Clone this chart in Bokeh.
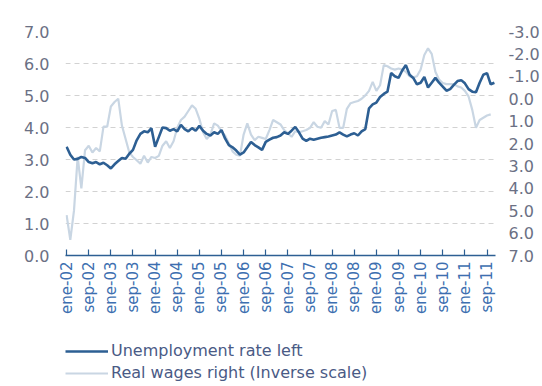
from bokeh.plotting import figure
from bokeh.models import (Range1d, LinearAxis, FixedTicker, Legend, LegendItem,
                          PrintfTickFormatter, AllLabels)
from bokeh.layouts import column
from bokeh.embed import file_html
from bokeh.resources import INLINE
import math

# ---------------- data ----------------
tick_labels = ["ene-02", "sep-02", "ene-03", "sep-03", "ene-04", "sep-04", "ene-05",
               "sep-05", "ene-06", "sep-06", "ene-07", "sep-07", "ene-08", "sep-08",
               "ene-09", "sep-09", "ene-10", "sep-10", "ene-11", "sep-11"]

# monthly, ene-02 .. sep-11 (left axis, %)
unemployment = [
    3.40, 3.15, 3.00, 3.02, 3.08, 3.05, 2.92, 2.88, 2.92, 2.85,
    2.90, 2.82, 2.72, 2.85, 2.95, 3.05, 3.02, 3.18, 3.30, 3.60,
    3.80, 3.88, 3.85, 3.98, 3.40, 3.70, 4.00, 3.98, 3.90, 3.95,
    3.88, 4.08, 3.95, 3.88, 3.98, 3.90, 4.05, 3.90, 3.80, 3.75,
    3.85, 3.80, 3.92, 3.65, 3.45, 3.38, 3.28, 3.15, 3.22, 3.38,
    3.55, 3.45, 3.38, 3.30, 3.55, 3.62, 3.68, 3.70, 3.75, 3.85,
    3.80, 3.90, 4.02, 3.85, 3.65, 3.58, 3.65, 3.62, 3.65, 3.68,
    3.70, 3.72, 3.75, 3.78, 3.85, 3.78, 3.72, 3.78, 3.82, 3.75,
    3.88, 3.95, 4.60, 4.72, 4.78, 4.95, 5.05, 5.12, 5.70, 5.60,
    5.55, 5.78, 5.95, 5.65, 5.55, 5.35, 5.40, 5.58, 5.25, 5.40,
    5.55, 5.40, 5.28, 5.15, 5.20, 5.33, 5.45, 5.48, 5.38, 5.20,
    5.12, 5.10, 5.40, 5.65, 5.70, 5.35, 5.40,
]

# monthly, ene-02 .. ago-11 (right axis, inverse scale)
real_wages = [
    5.20, 6.30, 5.00, 2.60, 4.00, 2.30, 2.10, 2.40, 2.20, 2.35,
    1.25, 1.25, 0.35, 0.15, 0.00, 1.20, 1.80, 2.40, 2.60, 2.75,
    2.90, 2.55, 2.85, 2.60, 2.65, 2.55, 2.10, 1.90, 2.20, 1.90,
    1.30, 0.95, 0.80, 0.55, 0.30, 0.45, 0.90, 1.50, 1.80, 1.60,
    1.10, 1.20, 1.45, 1.65, 2.00, 2.35, 2.50, 2.55, 1.60, 1.10,
    1.60, 1.85, 1.70, 1.75, 1.80, 1.40, 0.95, 1.05, 1.15, 1.40,
    1.55, 1.70, 1.45, 1.50, 1.45, 1.40, 1.30, 1.05, 1.25, 1.30,
    1.00, 1.15, 0.55, 0.50, 1.30, 1.30, 0.45, 0.20, 0.15, 0.10,
    0.00, -0.15, -0.35, -0.75, -0.35, -0.60, -1.50, -1.45, -1.35, -1.30,
    -1.35, -1.30, -1.20, -1.00, -0.95, -1.00, -1.30, -1.95, -2.25, -2.00,
    -1.20, -0.85, -0.70, -0.65, -0.65, -0.65, -0.55, -0.50, -0.35, -0.10,
    0.50, 1.30, 0.95, 0.85, 0.75, 0.70,
]

left_ticks = [0, 1, 2, 3, 4, 5, 6, 7]
right_ticks = [-3, -2, -1, 0, 1, 2, 3, 4, 5, 6, 7]
series_names = ["Unemployment rate left", "Real wages right (Inverse scale)"]

# ---------------- styling ----------------
FONT = "DejaVu Sans"
DARK = "#2d5f93"
LIGHT = "#c9d6e3"
YLAB = "#6b7084"
XLAB = "#3d6fb0"
LEGC = "#4a5a85"
W_U, W_W = 2.6, 2.2

months_u = list(range(len(unemployment)))
months_w = list(range(len(real_wages)))
tick_step = 6
x_ticks = [i * tick_step for i in range(len(tick_labels))]

p = figure(width=542, height=330, output_backend="svg", toolbar_location=None,
           x_range=Range1d(-0.3, 116.3), y_range=Range1d(0, 7),
           min_border_left=56, min_border_right=45, min_border_top=31,
           min_border_bottom=75)
p.outline_line_color = None
p.background_fill_color = "white"
p.border_fill_color = "white"

p.extra_y_ranges = {"right": Range1d(start=7, end=-3)}

# grid
p.xgrid.grid_line_color = None
p.ygrid.ticker = FixedTicker(ticks=left_ticks)
p.ygrid.grid_line_color = "#d2d2d2"
p.ygrid.grid_line_dash = "5 4"
p.ygrid.grid_line_width = 1

# lines
p.line(months_w, real_wages, y_range_name="right", line_color=LIGHT, line_width=W_W)
p.line(months_u, unemployment, line_color=DARK, line_width=W_U)

# x axis
xa = p.xaxis[0]
xa.ticker = FixedTicker(ticks=x_ticks)
xa.major_label_overrides = {t: lab for t, lab in zip(x_ticks, tick_labels)}
xa.major_label_policy = AllLabels()
xa.major_label_orientation = math.pi / 2
xa.major_label_text_font = FONT
xa.major_label_text_font_size = "15px"
xa.major_label_text_color = XLAB
xa.major_label_standoff = 6
xa.axis_line_color = DARK
xa.axis_line_width = 1.5
xa.major_tick_line_color = DARK
xa.major_tick_line_width = 1.2
xa.major_tick_in = 6
xa.major_tick_out = 0
xa.minor_tick_line_color = None

# left axis
ya = p.yaxis[0]
ya.ticker = FixedTicker(ticks=left_ticks)
ya.formatter = PrintfTickFormatter(format="%.1f")
ya.axis_line_color = None
ya.major_tick_line_color = None
ya.minor_tick_line_color = None
ya.major_label_text_font = FONT
ya.major_label_text_font_size = "16px"
ya.major_label_text_color = YLAB
ya.major_label_standoff = 10

# right axis
ra = LinearAxis(y_range_name="right", ticker=FixedTicker(ticks=right_ticks),
                formatter=PrintfTickFormatter(format="%.1f"))
ra.axis_line_color = None
ra.major_tick_line_color = None
ra.minor_tick_line_color = None
ra.major_label_text_font = FONT
ra.major_label_text_font_size = "16px"
ra.major_label_text_color = YLAB
ra.major_label_standoff = 7
p.add_layout(ra, "right")

# ---------------- legend strip below the chart ----------------
lg = figure(width=542, height=56, output_backend="svg", toolbar_location=None,
            x_range=Range1d(0, 1), y_range=Range1d(0, 1),
            x_axis_type=None, y_axis_type=None,
            min_border_left=65, min_border_right=0, min_border_top=11,
            min_border_bottom=0)
lg.outline_line_color = None
lg.xgrid.grid_line_color = None
lg.ygrid.grid_line_color = None
nan = float("nan")
# legend-only proxies (no visible points)
k_u = lg.line(x=[nan], y=[nan], line_color=DARK, line_width=W_U)
k_w = lg.line(x=[nan], y=[nan], line_color=LIGHT, line_width=W_W)

legend = Legend(items=[LegendItem(label=series_names[0], renderers=[k_u]),
                       LegendItem(label=series_names[1], renderers=[k_w])],
                location="top_left", orientation="vertical")
legend.border_line_color = None
legend.background_fill_alpha = 0
legend.padding = 2
legend.margin = 0
legend.spacing = 3
legend.glyph_width = 43
legend.glyph_height = 18
legend.label_height = 18
legend.label_standoff = 3
legend.label_text_font = FONT
legend.label_text_font_size = "16px"
legend.label_text_color = LEGC
lg.add_layout(legend)

layout = column(p, lg, spacing=0)
open("out.html", "w").write(file_html(layout, INLINE))
